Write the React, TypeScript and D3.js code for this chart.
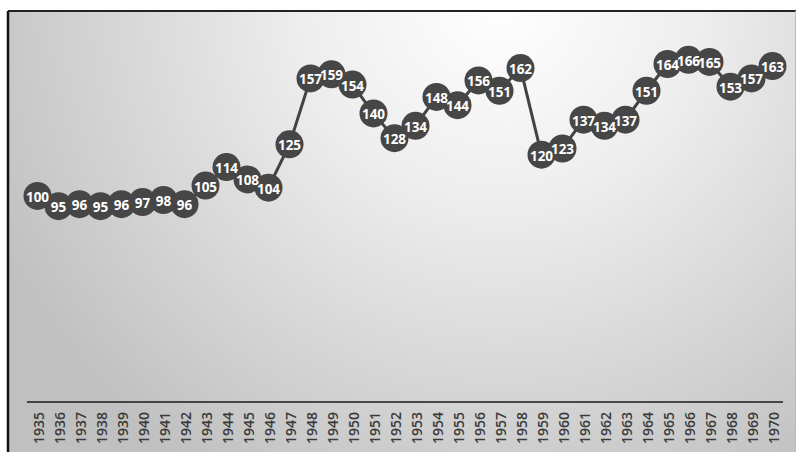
import React from "react";
import * as d3 from "d3";

const years: string[] = [
  "1935", "1936", "1937", "1938", "1939", "1940", "1941", "1942", "1943",
  "1944", "1945", "1946", "1947", "1948", "1949", "1950", "1951", "1952",
  "1953", "1954", "1955", "1956", "1957", "1958", "1959", "1960", "1961",
  "1962", "1963", "1964", "1965", "1966", "1967", "1968", "1969", "1970",
];

const indexValues: number[] = [
  100, 95, 96, 95, 96, 97, 98, 96, 105, 114, 108, 104, 125, 157, 159, 154,
  140, 128, 134, 148, 144, 156, 151, 162, 120, 123, 137, 134, 137, 151, 164,
  166, 165, 153, 157, 163,
];

const W = 797;
const H = 452;
const axisLeft = 27;
const axisRight = 783;
const axisY = 402;

export default function App() {
  const x = d3.scaleBand<string>().domain(years).range([axisLeft, axisRight]);
  const y = d3.scaleLinear().domain([0, 180]).range([axisY, 31]);

  const points = years.map((yr, i) => ({
    yr,
    v: indexValues[i],
    cx: (x(yr) as number) + x.bandwidth() / 2,
    cy: y(indexValues[i]),
  }));

  const line = d3
    .line<{ cx: number; cy: number }>()
    .x((d) => d.cx)
    .y((d) => d.cy);

  return (
    <svg
      width={W}
      height={H}
      style={{ position: "absolute", left: 0, top: 0, display: "block" }}
    >
      <defs>
        <radialGradient
          id="bg"
          gradientUnits="userSpaceOnUse"
          cx={500}
          cy={0}
          r={560}
          fx={500}
          fy={0}
        >
          <stop offset="0" stopColor="#ffffff" />
          <stop offset="0.35" stopColor="#eeeeee" />
          <stop offset="1" stopColor="#c0c0c0" />
        </radialGradient>
      </defs>
      <rect x={0} y={0} width={W} height={H} fill="#ffffff" />
      <rect x={8} y={11} width={788} height={H} fill="url(#bg)" />
      <line x1={8} y1={11} x2={796} y2={11} stroke="#222" strokeWidth={2} />
      <line x1={8} y1={11} x2={8} y2={H} stroke="#111" strokeWidth={2.5} />
      <line x1={795.5} y1={11} x2={795.5} y2={H} stroke="#bbbbbb" strokeWidth={1} />

      {/* category axis */}
      <line
        x1={axisLeft}
        y1={axisY}
        x2={axisRight}
        y2={axisY}
        stroke="#1a1a1a"
        strokeWidth={1.5}
      />
      {points.map((p) => (
        <text
          key={"t" + p.yr}
          transform={`translate(${p.cx + 0.5},412) rotate(-90)`}
          textAnchor="end"
          dominantBaseline="central"
          fontFamily="'Open Sans', sans-serif"
          fontSize={14}
          fontWeight={600}
          fill="#3a3a3a"
        >
          {p.yr}
        </text>
      ))}

      {/* series line */}
      <path
        d={line(points) || ""}
        fill="none"
        stroke="#434343"
        strokeWidth={3}
      />

      {/* markers */}
      {points.map((p) => (
        <circle
          key={"c" + p.yr}
          cx={p.cx}
          cy={p.cy}
          r={14}
          fill="#464646"
        />
      ))}

      {/* data labels */}
      {points.map((p) => (
        <text
          key={"l" + p.yr}
          x={p.cx}
          y={p.cy + 1}
          textAnchor="middle"
          dominantBaseline="central"
          fontFamily="'Open Sans', sans-serif"
          fontWeight="bold"
          fontSize={13.5}
          fill="#ffffff"
        >
          {p.v}
        </text>
      ))}
    </svg>
  );
}
